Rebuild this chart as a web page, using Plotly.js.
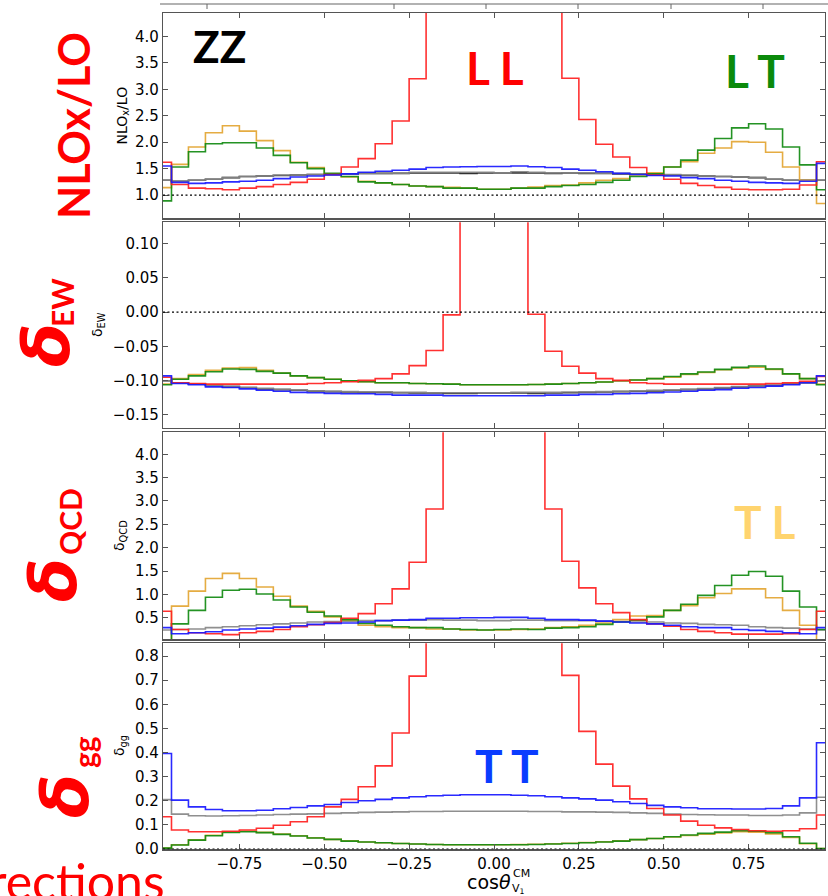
<!DOCTYPE html>
<html>
<head>
<meta charset="utf-8">
<script src="https://cdn.plot.ly/plotly-3.0.1.min.js"></script>
<style>
  html, body { margin: 0; padding: 0; background: #ffffff; }
  #plot { width: 828px; height: 896px; }
</style>
</head>
<body>
<div id="plot"></div>
<script>
// Histogram bin edges in cos(theta_V1) (40 bins of width 0.05)
const binEdges = [-1.00, -0.95, -0.90, -0.85, -0.80, -0.75, -0.70, -0.65, -0.60, -0.55,
  -0.50, -0.45, -0.40, -0.35, -0.30, -0.25, -0.20, -0.15, -0.10, -0.05,
  0.00, 0.05, 0.10, 0.15, 0.20, 0.25, 0.30, 0.35, 0.40, 0.45,
  0.50, 0.55, 0.60, 0.65, 0.70, 0.75, 0.80, 0.85, 0.90, 0.95, 1.00];

// NLO_x / LO
const nloLL = [1.62, 1.20, 1.13, 1.12, 1.10, 1.13, 1.16, 1.20, 1.24, 1.30,
  1.39, 1.53, 1.69, 1.97, 2.40, 3.20, 4.90, 6.80, 9.50, 12.0,
  12.0, 9.50, 6.80, 4.90, 3.21, 2.43, 1.96, 1.72, 1.52, 1.38,
  1.30, 1.22, 1.18, 1.145, 1.11, 1.10, 1.10, 1.11, 1.19, 1.63];
const nloLT = [0.89, 1.53, 1.82, 1.97, 1.99, 1.99, 1.89, 1.75, 1.61, 1.50,
  1.41, 1.35, 1.25, 1.23, 1.20, 1.17, 1.16, 1.13, 1.13, 1.11,
  1.11, 1.13, 1.13, 1.16, 1.18, 1.20, 1.24, 1.28, 1.35, 1.40,
  1.53, 1.66, 1.85, 2.07, 2.27, 2.35, 2.25, 1.91, 1.57, 1.10];
const nloTL = [1.14, 1.58, 1.91, 2.18, 2.31, 2.21, 2.03, 1.84, 1.62, 1.52,
  1.39, 1.34, 1.26, 1.23, 1.20, 1.17, 1.16, 1.145, 1.13, 1.11,
  1.11, 1.13, 1.15, 1.18, 1.19, 1.23, 1.28, 1.31, 1.38, 1.42,
  1.53, 1.63, 1.79, 1.89, 2.01, 2.00, 1.81, 1.53, 1.28, 0.84];
const nloTT = [1.55, 1.24, 1.22, 1.23, 1.25, 1.26, 1.28, 1.31, 1.34, 1.36,
  1.38, 1.40, 1.43, 1.45, 1.47, 1.49, 1.52, 1.53, 1.535, 1.54,
  1.54, 1.55, 1.535, 1.52, 1.49, 1.47, 1.44, 1.41, 1.39, 1.37,
  1.36, 1.33, 1.31, 1.28, 1.26, 1.24, 1.23, 1.22, 1.26, 1.60];
const nloSum = [1.28, 1.26, 1.28, 1.30, 1.33, 1.35, 1.36, 1.38, 1.38, 1.39,
  1.40, 1.40, 1.41, 1.41, 1.415, 1.43, 1.43, 1.43, 1.43, 1.43,
  1.42, 1.44, 1.43, 1.42, 1.42, 1.42, 1.415, 1.41, 1.40, 1.39,
  1.39, 1.38, 1.36, 1.35, 1.34, 1.33, 1.30, 1.28, 1.28, 1.28];
const nloUnpol = [1.28, 1.26, 1.28, 1.30, 1.33, 1.35, 1.36, 1.37, 1.38, 1.39,
  1.39, 1.40, 1.41, 1.41, 1.41, 1.42, 1.42, 1.42, 1.41, 1.42,
  1.42, 1.42, 1.42, 1.41, 1.42, 1.41, 1.41, 1.40, 1.40, 1.39,
  1.38, 1.37, 1.36, 1.35, 1.34, 1.33, 1.30, 1.28, 1.28, 1.28];

// delta_EW
const ewLL = [-0.095, -0.103, -0.104, -0.105, -0.105, -0.105, -0.105, -0.105, -0.105, -0.104,
  -0.103, -0.1015, -0.0996, -0.097, -0.090, -0.078, -0.056, -0.004, 0.30, 0.80,
  0.80, 0.30, -0.003, -0.057, -0.079, -0.089, -0.097, -0.0996, -0.103, -0.104,
  -0.105, -0.105, -0.105, -0.105, -0.105, -0.105, -0.104, -0.103, -0.101, -0.094];
const ewLT = [-0.106, -0.098, -0.093, -0.087, -0.083, -0.0835, -0.0864, -0.089, -0.093, -0.0956,
  -0.098, -0.100, -0.1015, -0.103, -0.103, -0.104, -0.1045, -0.105, -0.106, -0.106,
  -0.106, -0.106, -0.1055, -0.105, -0.104, -0.103, -0.102, -0.100, -0.099, -0.097,
  -0.094, -0.090, -0.0874, -0.0835, -0.0806, -0.0786, -0.083, -0.090, -0.097, -0.106];
const ewTL = [-0.105, -0.097, -0.091, -0.085, -0.0815, -0.081, -0.085, -0.089, -0.093, -0.0955,
  -0.098, -0.100, -0.1015, -0.103, -0.103, -0.104, -0.1045, -0.105, -0.106, -0.106,
  -0.106, -0.106, -0.1055, -0.105, -0.104, -0.103, -0.102, -0.100, -0.099, -0.097,
  -0.095, -0.091, -0.088, -0.084, -0.0815, -0.0805, -0.0835, -0.090, -0.097, -0.105];
const ewTT = [-0.093, -0.104, -0.106, -0.109, -0.110, -0.112, -0.114, -0.1155, -0.117, -0.1175,
  -0.1185, -0.119, -0.119, -0.120, -0.121, -0.121, -0.121, -0.122, -0.122, -0.122,
  -0.122, -0.122, -0.122, -0.121, -0.121, -0.120, -0.120, -0.119, -0.1185, -0.1175,
  -0.1165, -0.1155, -0.114, -0.113, -0.111, -0.110, -0.108, -0.106, -0.103, -0.093];
const ewSum = [-0.100, -0.103, -0.105, -0.107, -0.108, -0.110, -0.111, -0.1126, -0.1136, -0.1146,
  -0.1155, -0.116, -0.1165, -0.1165, -0.117, -0.117, -0.1175, -0.1175, -0.1175, -0.1175,
  -0.1175, -0.117, -0.117, -0.117, -0.1165, -0.1165, -0.116, -0.1155, -0.115, -0.114,
  -0.1136, -0.1126, -0.1116, -0.110, -0.1087, -0.108, -0.1063, -0.105, -0.103, -0.100];
const ewUnpol = [-0.100, -0.103, -0.105, -0.107, -0.109, -0.110, -0.112, -0.113, -0.114, -0.115,
  -0.116, -0.1165, -0.117, -0.117, -0.1175, -0.118, -0.118, -0.1185, -0.1185, -0.118,
  -0.118, -0.118, -0.1185, -0.118, -0.1175, -0.117, -0.1165, -0.116, -0.1155, -0.115,
  -0.114, -0.113, -0.112, -0.1105, -0.109, -0.108, -0.107, -0.105, -0.103, -0.100];

// delta_QCD
const qcdLL = [0.64, 0.25, 0.18, 0.16, 0.14, 0.18, 0.21, 0.25, 0.31, 0.35,
  0.40, 0.49, 0.59, 0.80, 1.12, 1.69, 2.83, 5.5, 8.0, 10.0,
  10.0, 8.0, 5.5, 2.83, 1.71, 1.14, 0.80, 0.61, 0.46, 0.37,
  0.32, 0.25, 0.21, 0.18, 0.15, 0.15, 0.15, 0.16, 0.25, 0.64];
const qcdLT = [0.00, 0.37, 0.66, 0.94, 1.09, 1.11, 1.01, 0.88, 0.73, 0.62,
  0.54, 0.46, 0.38, 0.34, 0.31, 0.29, 0.29, 0.26, 0.25, 0.24,
  0.25, 0.26, 0.25, 0.28, 0.29, 0.31, 0.36, 0.41, 0.45, 0.52,
  0.66, 0.79, 0.98, 1.19, 1.41, 1.49, 1.39, 1.07, 0.73, 0.25];
const qcdTL = [0.00, 0.75, 1.07, 1.34, 1.45, 1.34, 1.16, 0.96, 0.75, 0.64,
  0.52, 0.45, 0.34, 0.31, 0.29, 0.29, 0.26, 0.26, 0.24, 0.24,
  0.24, 0.25, 0.26, 0.29, 0.31, 0.34, 0.39, 0.46, 0.54, 0.55,
  0.66, 0.76, 0.93, 1.02, 1.12, 1.12, 0.93, 0.66, 0.34, 0.00];
const qcdTT = [0.29, 0.16, 0.18, 0.20, 0.24, 0.26, 0.28, 0.30, 0.33, 0.36,
  0.38, 0.39, 0.41, 0.44, 0.45, 0.46, 0.49, 0.49, 0.50, 0.50,
  0.51, 0.51, 0.49, 0.46, 0.46, 0.45, 0.43, 0.41, 0.39, 0.37,
  0.34, 0.31, 0.29, 0.29, 0.25, 0.23, 0.21, 0.18, 0.16, 0.29];
const qcdSum = [0.24, 0.25, 0.26, 0.29, 0.31, 0.33, 0.35, 0.37, 0.39, 0.41,
  0.42, 0.43, 0.44, 0.44, 0.45, 0.45, 0.46, 0.45, 0.45, 0.44,
  0.44, 0.45, 0.45, 0.44, 0.44, 0.44, 0.43, 0.42, 0.41, 0.41,
  0.39, 0.38, 0.36, 0.35, 0.34, 0.31, 0.29, 0.28, 0.26, 0.24];

// delta_gg
const ggLL = [0.134, 0.079, 0.072, 0.072, 0.074, 0.079, 0.086, 0.099, 0.113, 0.134,
  0.175, 0.206, 0.258, 0.345, 0.481, 0.717, 1.2, 1.8, 2.5, 3.0,
  3.0, 2.5, 1.8, 1.2, 0.720, 0.488, 0.352, 0.261, 0.208, 0.168,
  0.141, 0.116, 0.099, 0.088, 0.081, 0.076, 0.074, 0.076, 0.084, 0.141];
const ggLT = [0.004, 0.017, 0.037, 0.055, 0.069, 0.072, 0.068, 0.061, 0.054, 0.046,
  0.040, 0.033, 0.029, 0.026, 0.023, 0.021, 0.019, 0.018, 0.018, 0.018,
  0.018, 0.018, 0.019, 0.021, 0.023, 0.026, 0.029, 0.033, 0.039, 0.044,
  0.051, 0.058, 0.065, 0.070, 0.076, 0.074, 0.068, 0.051, 0.024, 0.002];
const ggTL = [0.004, 0.018, 0.038, 0.057, 0.071, 0.074, 0.069, 0.062, 0.055, 0.047,
  0.040, 0.034, 0.029, 0.026, 0.023, 0.021, 0.019, 0.018, 0.018, 0.018,
  0.018, 0.019, 0.020, 0.022, 0.024, 0.027, 0.030, 0.034, 0.039, 0.044,
  0.050, 0.056, 0.062, 0.067, 0.072, 0.070, 0.063, 0.048, 0.022, 0.002];
const ggTT = [0.396, 0.203, 0.175, 0.164, 0.159, 0.159, 0.161, 0.167, 0.172, 0.179,
  0.185, 0.193, 0.200, 0.206, 0.212, 0.217, 0.221, 0.223, 0.225, 0.225,
  0.225, 0.223, 0.221, 0.217, 0.212, 0.208, 0.203, 0.196, 0.189, 0.181,
  0.175, 0.171, 0.167, 0.167, 0.166, 0.166, 0.168, 0.179, 0.212, 0.441];
const ggSum = [0.205, 0.145, 0.138, 0.137, 0.138, 0.139, 0.141, 0.143, 0.145, 0.146,
  0.148, 0.150, 0.152, 0.153, 0.154, 0.156, 0.156, 0.157, 0.157, 0.157,
  0.157, 0.157, 0.156, 0.156, 0.154, 0.154, 0.153, 0.152, 0.150, 0.148,
  0.145, 0.143, 0.142, 0.141, 0.141, 0.139, 0.139, 0.141, 0.150, 0.215];

// Tick values
const xTicks = [-0.75, -0.50, -0.25, 0.00, 0.25, 0.50, 0.75];
const nloTicks = [1.0, 1.5, 2.0, 2.5, 3.0, 3.5, 4.0];
const ewTicks = [-0.15, -0.10, -0.05, 0.00, 0.05, 0.10];
const qcdTicks = [0.5, 1.0, 1.5, 2.0, 2.5, 3.0, 3.5, 4.0];
const ggTicks = [0.0, 0.1, 0.2, 0.3, 0.4, 0.5, 0.6, 0.7, 0.8];

const colors = {
  LL: '#ff2020', LT: '#118a11', TL: '#e3a532', TT: '#1818ff',
  sum: '#868686', unpol: '#202020'
};

// Figure geometry (pixels)
const W = 828, H = 896, ML = 163, MR = 3;
const PW = W - ML - MR;
const px = x => (x - ML) / PW;
const py = y => 1 - y / H;
const dom = (top, bottom) => [py(bottom), py(top)];

function step(vals, color, n) {
  return {
    type: 'scatter', mode: 'lines',
    x: binEdges,
    y: vals.concat([vals[vals.length - 1]]),
    line: { shape: 'hv', color: color, width: 1.6 },
    opacity: 0.92,
    xaxis: n === 1 ? 'x' : 'x' + n,
    yaxis: n === 1 ? 'y' : 'y' + n,
    hoverinfo: 'skip', showlegend: false
  };
}

const panels = [
  { n: 1, series: [[nloUnpol, 'unpol'], [nloSum, 'sum'], [nloTL, 'TL'], [nloLT, 'LT'], [nloLL, 'LL'], [nloTT, 'TT']] },
  { n: 2, series: [[ewUnpol, 'unpol'], [ewSum, 'sum'], [ewTL, 'TL'], [ewLT, 'LT'], [ewLL, 'LL'], [ewTT, 'TT']] },
  { n: 3, series: [[qcdSum, 'sum'], [qcdTL, 'TL'], [qcdLT, 'LT'], [qcdLL, 'LL'], [qcdTT, 'TT']] },
  { n: 4, series: [[ggSum, 'sum'], [ggTL, 'TL'], [ggLT, 'LT'], [ggLL, 'LL'], [ggTT, 'TT']] }
];

const traces = [];
panels.forEach(p => p.series.forEach(([vals, key]) => traces.push(step(vals, colors[key], p.n))));

const frame = '#555555';
const tickFont = { family: 'DejaVu Sans, sans-serif', size: 15, color: '#000000' };

function xAxis(n, labels) {
  return {
    range: [-0.975, 0.975], tickvals: xTicks, tickformat: '.2f',
    showticklabels: labels, tickfont: tickFont,
    ticks: 'inside', ticklen: 5, tickwidth: 1, tickcolor: frame,
    showline: true, linecolor: frame, linewidth: 1.2, mirror: 'ticks',
    showgrid: false, zeroline: false,
    anchor: n === 1 ? 'y' : 'y' + n,
    matches: n === 1 ? undefined : 'x'
  };
}
function yAxis(n, range, ticks, fmt, domain) {
  return {
    range: range, tickvals: ticks, tickformat: fmt, tickfont: tickFont,
    ticks: 'inside', ticklen: 5, tickwidth: 1, tickcolor: frame,
    showline: true, linecolor: frame, linewidth: 1.2, mirror: 'ticks',
    showgrid: false, zeroline: false, domain: domain,
    anchor: n === 1 ? 'x' : 'x' + n
  };
}

const dotted = (yref, yv) => ({
  type: 'line', xref: 'paper', x0: 0, x1: 1, yref: yref, y0: yv, y1: yv,
  line: { color: '#000000', width: 1.3, dash: '2px,2.5px' }, layer: 'above'
});

const shapes = [
  dotted('y', 1.0), dotted('y2', 0.0), dotted('y4', 0.0),
  // lower frame edge of the panel stacked above
  { type: 'line', xref: 'paper', yref: 'paper', x0: px(160), x1: px(828), y0: py(4), y1: py(4),
    line: { color: '#666666', width: 1.2 } }
];
[207, 394, 486, 578, 671, 763].forEach(t => shapes.push({
  type: 'line', xref: 'paper', yref: 'paper', x0: px(t), x1: px(t), y0: py(4), y1: py(9),
  line: { color: '#666666', width: 1 }
}));

const big = 'Lato, "Noto Sans", sans-serif';
const greek = '"DejaVu Sans", sans-serif';
const ann = (text, x, y, size, color, extra) => Object.assign({
  text: text, xref: 'paper', yref: 'paper', x: px(x), y: py(y),
  xanchor: 'center', yanchor: 'middle', showarrow: false,
  font: { family: big, size: size, color: color }
}, extra || {});
const delta = (x, y) => ann('<b><i>δ</i></b>', x, y, 64, '#ff0000',
  { textangle: -90, font: { family: greek, size: 64, color: '#ff0000' } });
const small = (text, x, y, size, extra) => ann(text, x, y, size, '#000000',
  Object.assign({ font: { family: 'DejaVu Sans, sans-serif', size: size, color: '#000000' } }, extra || {}));

const annotations = [
  ann('<b>ZZ</b>', 219, 46, 44, '#000000'),
  ann('<b>L L</b>', 495, 68, 46, '#ff0000'),
  ann('<b>L T</b>', 755, 71, 46, '#0b8a0b'),
  ann('<b>T L</b>', 764, 521, 46, '#ffd46e'),
  ann('<b>T T</b>', 507, 765, 46, '#0a3cff'),

  ann('<b>NLOx/LO</b>', 73, 126, 43, '#ff0000', { textangle: -90 }),
  delta(47, 345),
  ann('<b>EW</b>', 62, 303, 30, '#ff0000', { textangle: -90 }),
  delta(54, 580),
  ann('<b>QCD</b>', 70, 522, 30, '#ff0000', { textangle: -90 }),
  delta(66, 796),
  ann('<b>gg</b>', 84, 752, 30, '#ff0000', { textangle: -90 }),
  ann('Corrections', 0, 881, 50, '#ff0000', { x: px(167), xanchor: 'right' }),

  // y-axis titles
  small('NLO<sub>x</sub>/LO', 122, 115.5, 14, { textangle: -90 }),
  small('δ<sub>EW</sub>', 98, 325, 14, { textangle: -90 }),
  small('δ<sub>QCD</sub>', 120, 536, 14, { textangle: -90 }),
  small('δ<sub>gg</sub>', 120, 746, 14, { textangle: -90 }),

  // x-axis title: cos(theta) with stacked super/subscript
  small('cos<i>θ</i>', 489, 882, 19),
  small('CM', 521, 873, 11),
  small('V<sub>1</sub>', 518, 889, 11)
];

const layout = {
  width: W, height: H,
  margin: { l: ML, r: MR, t: 0, b: 0, pad: 0 },
  paper_bgcolor: '#ffffff', plot_bgcolor: '#ffffff',
  showlegend: false,
  xaxis: xAxis(1, false), xaxis2: xAxis(2, false), xaxis3: xAxis(3, false), xaxis4: xAxis(4, true),
  yaxis: yAxis(1, [0.56, 4.45], nloTicks, '.1f', dom(12.7, 218.3)),
  yaxis2: yAxis(2, [-0.169, 0.131], ewTicks, '.2f', dom(222.3, 428)),
  yaxis3: yAxis(3, [0.04, 4.47], qcdTicks, '.1f', dom(432.3, 639.3)),
  yaxis4: yAxis(4, [-0.001, 0.853], ggTicks, '.1f', dom(643.3, 849.3)),
  shapes: shapes,
  annotations: annotations
};

Plotly.newPlot('plot', traces, layout, { staticPlot: true, displayModeBar: false });
</script>
</body>
</html>
